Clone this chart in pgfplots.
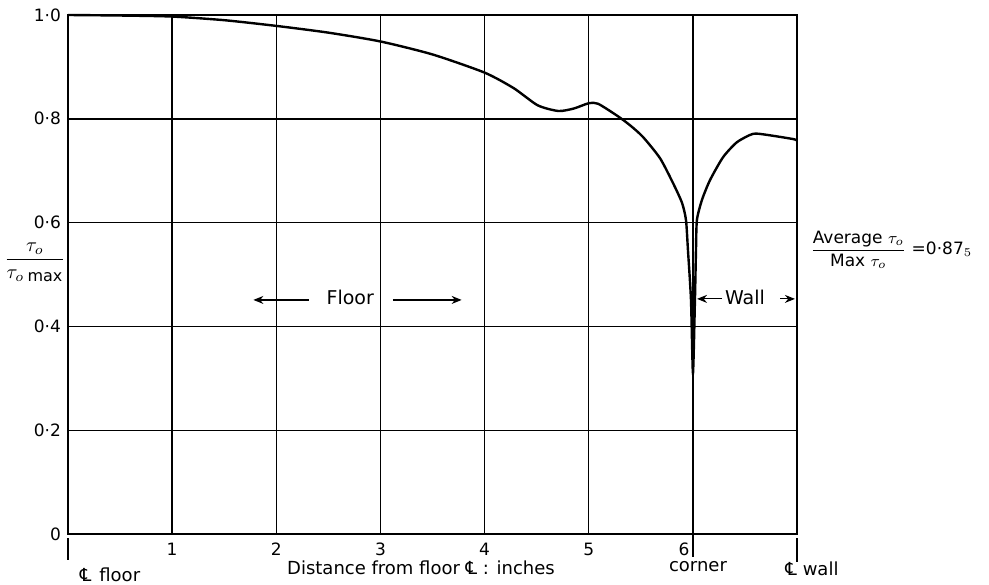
\documentclass[border=0pt]{standalone}
\usepackage{amsmath}
\usepackage{pgfplots}
\pgfplotsset{compat=1.18}
\usepackage{fontspec}
\setmainfont{DejaVu Sans}
\usetikzlibrary{arrows.meta}
\newcommand{\CL}{℄}

\begin{document}
\begin{tikzpicture}
\begin{axis}[
    scale only axis,
    width=364.5pt, height=259.5pt,
    xmin=0, xmax=7, ymin=0, ymax=1,
    xtick={0,1,2,3,4,5,6,7},
    xticklabels={,1,2,3,4,5,,},
    ytick={0,0.2,0.4,0.6,0.8,1.0},
    yticklabels={0,0·2,0·4,0·6,0·8,1·0},
    major tick length=0pt,
    grid=major,
    major grid style={black, line width=0.7pt},
    axis line style={black, line width=0.8pt},
    ticklabel style={font=\fontsize{8.5}{10}\selectfont},
    xticklabel style={yshift=-1pt},
    clip=false,
]
    % tau_o / tau_o max
    \addplot[black, line width=1.2pt, smooth, tension=0.4] coordinates {
        (0,1.0) (0.5,0.999) (1.0,0.997) (1.5,0.990) (2.0,0.979) (2.5,0.966)
        (3.0,0.949) (3.5,0.924) (4.0,0.889) (4.28,0.859) (4.51,0.826)
        (4.71,0.815) (4.86,0.820) (5.0,0.830) (5.09,0.829) (5.28,0.805)
        (5.4,0.787) (5.521,0.765) (5.685,0.724) (5.810,0.676) (5.896,0.638)
        (5.934,0.605) (5.953,0.547) (5.982,0.451) (6.001,0.310)
        (6.020,0.451) (6.030,0.547) (6.039,0.605) (6.088,0.644) (6.165,0.682)
        (6.290,0.726) (6.424,0.755) (6.578,0.771) (6.712,0.769) (6.962,0.761)
        (7.0,0.758)
    };

    % Floor / Wall
    \draw[-{Stealth[length=5pt,width=4pt]}, line width=0.6pt] (axis cs:2.31,0.451) -- (axis cs:1.78,0.451);
    \draw[-{Stealth[length=5pt,width=4pt]}, line width=0.6pt] (axis cs:3.12,0.451) -- (axis cs:3.78,0.451);
    \node[font=\fontsize{9.5}{11}\selectfont] at (axis cs:2.71,0.455) {Floor};
    \draw[-{Stealth[length=5pt,width=4pt]}, line width=0.6pt] (axis cs:6.28,0.453) -- (axis cs:6.04,0.453);
    \draw[-{Stealth[length=5pt,width=4pt]}, line width=0.6pt] (axis cs:6.84,0.453) -- (axis cs:6.98,0.453);
    \node[font=\fontsize{9.5}{11}\selectfont] at (axis cs:6.50,0.455) {Wall};

    % long ticks below the axis
    \draw[line width=0.7pt] (axis cs:0,0) ++(0,-2pt) -- ++(0,-11pt);
    \draw[line width=0.7pt] (axis cs:6,0) -- ++(0,-11.5pt);
    \draw[line width=0.7pt] (axis cs:7,0) ++(0,-2pt) -- ++(0,-12pt);
\end{axis}

\node[font=\fontsize{8.5}{10}\selectfont] at (308pt,-7.5pt) {6};
\node[font=\fontsize{9}{11}\selectfont] at (21pt,-20.5pt) {\CL\hspace{4pt}floor};
\node[font=\fontsize{9}{11}\selectfont] at (176.5pt,-17pt) {Distance from floor \CL\ : inches};
\node[font=\fontsize{9}{11}\selectfont] at (315pt,-16.5pt) {corner};
\node[font=\fontsize{9}{11}\selectfont] at (372pt,-17.5pt) {\CL\ wall};
\node[font=\fontsize{10}{12}\selectfont] at (-16.5pt,136pt) {$\dfrac{\tau_o}{\tau_o\,{}_{\mbox{\fontsize{8}{9}\selectfont max}}}$};
\node[anchor=west, font=\fontsize{8.5}{10}\selectfont, inner sep=0pt] at (371pt,142pt)
    {$\dfrac{\mbox{Average }\tau_o}{\mbox{Max }\tau_o}$ =0·87$_5$};

\pgfresetboundingbox
\useasboundingbox (-34pt,-25pt) rectangle (460.5pt,267pt);
\end{tikzpicture}
\end{document}
